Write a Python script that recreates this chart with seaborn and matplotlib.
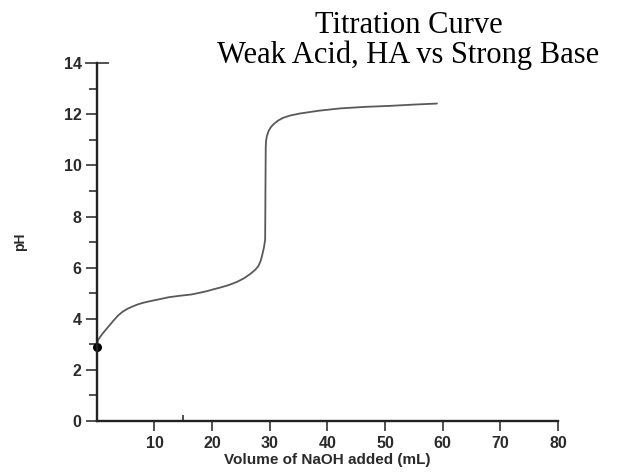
import matplotlib
matplotlib.use("Agg")
import matplotlib.pyplot as plt
import pandas as pd
import seaborn as sns

# titration curve
volume_ml = [0.0, 0.2, 1.0, 2.0, 2.9, 3.7, 4.5, 5.4, 6.3, 7.2, 8.3, 9.5, 11.0,
             12.4, 14.4, 16.4, 17.9, 19.1, 20.2, 21.4, 22.9, 24.3, 25.5, 26.6,
             27.4, 28.0, 28.4, 28.7, 29.0, 29.2, 29.25, 29.3, 29.35, 29.5, 29.8,
             30.2, 30.7, 31.4, 32.3, 33.5, 35.2, 38.5, 42.2, 46.5, 50.9, 55.0, 59.0]
ph = [2.9, 3.17, 3.42, 3.69, 3.93, 4.13, 4.28, 4.40, 4.49, 4.57, 4.64, 4.70, 4.77,
      4.84, 4.90, 4.95, 5.02, 5.08, 5.15, 5.22, 5.32, 5.44, 5.58, 5.75,
      5.90, 6.05, 6.25, 6.50, 6.80, 7.10, 9.00, 10.70, 10.95, 11.15, 11.35,
      11.50, 11.62, 11.75, 11.86, 11.95, 12.03, 12.14, 12.23, 12.29, 12.33, 12.38, 12.42]

y_major = [0, 2, 4, 6, 8, 10, 12, 14]
y_minor = [1, 3, 5, 7, 9, 11, 13]
x_major = [10, 20, 30, 40, 50, 60, 70, 80]
x_minor = [15]

title_text = "Titration Curve\nWeak Acid, HA vs Strong Base"
x_title = "Volume of NaOH added (mL)"
y_title = "pH"

df = pd.DataFrame({"volume": volume_ml, "pH": ph})

sns.set_style("ticks")
plt.rcParams['font.family'] = ['Liberation Sans', 'DejaVu Sans']

fig = plt.figure(figsize=(6.37, 4.75), dpi=100)
ax = fig.add_axes([0.152, 0.1137, 0.724, 0.7533])

sns.lineplot(data=df, x="volume", y="pH", ax=ax, color="#595959", linewidth=1.3,
             estimator=None, sort=False)
ax.scatter(df["volume"].iloc[:1], df["pH"].iloc[:1], s=30, color="black",
           zorder=1, clip_on=False)

ax.set_xlim(0, 80)
ax.set_ylim(0, 14)
ax.set_xticks(x_major)
ax.set_xticks(x_minor, minor=True)
ax.set_yticks(y_major)
ax.set_yticks(y_minor, minor=True)

sns.despine(ax=ax)
for side in ["left", "bottom"]:
    ax.spines[side].set_linewidth(1.7)
    ax.spines[side].set_color("#222222")

ax.tick_params(axis="y", which="major", direction="out", length=8, width=1.1,
               color="#222222", pad=3, labelsize=11.5, labelcolor="#2a2a2a")
ax.tick_params(axis="y", which="minor", direction="out", length=6, width=1.1,
               color="#222222")
ax.tick_params(axis="x", which="major", direction="out", length=7.5, width=1.1,
               color="#222222", pad=3, labelsize=11.5, labelcolor="#2a2a2a")
ax.tick_params(axis="x", which="minor", direction="in", length=4.5, width=1.1,
               color="#222222")
for lab in ax.get_xticklabels() + ax.get_yticklabels():
    lab.set_fontweight("bold")

# the cap at the top of the y axis reaches both sides
top_tick = ax.yaxis.get_major_ticks()[-1]
top_tick.tick1line.set_marker("_")
top_tick.tick1line.set_markersize(17)

ax.set_xlabel(x_title, fontsize=11, fontweight="bold", color="#2a2a2a", labelpad=2)
ax.set_ylabel(y_title, fontsize=10, fontweight="bold", color="#2a2a2a", labelpad=26)

fig.text(0.641, 0.976, title_text, ha="center", va="top", fontsize=22,
         family="Liberation Serif", linespacing=1.0, color="black")

fig.savefig("out.png", dpi=100)
